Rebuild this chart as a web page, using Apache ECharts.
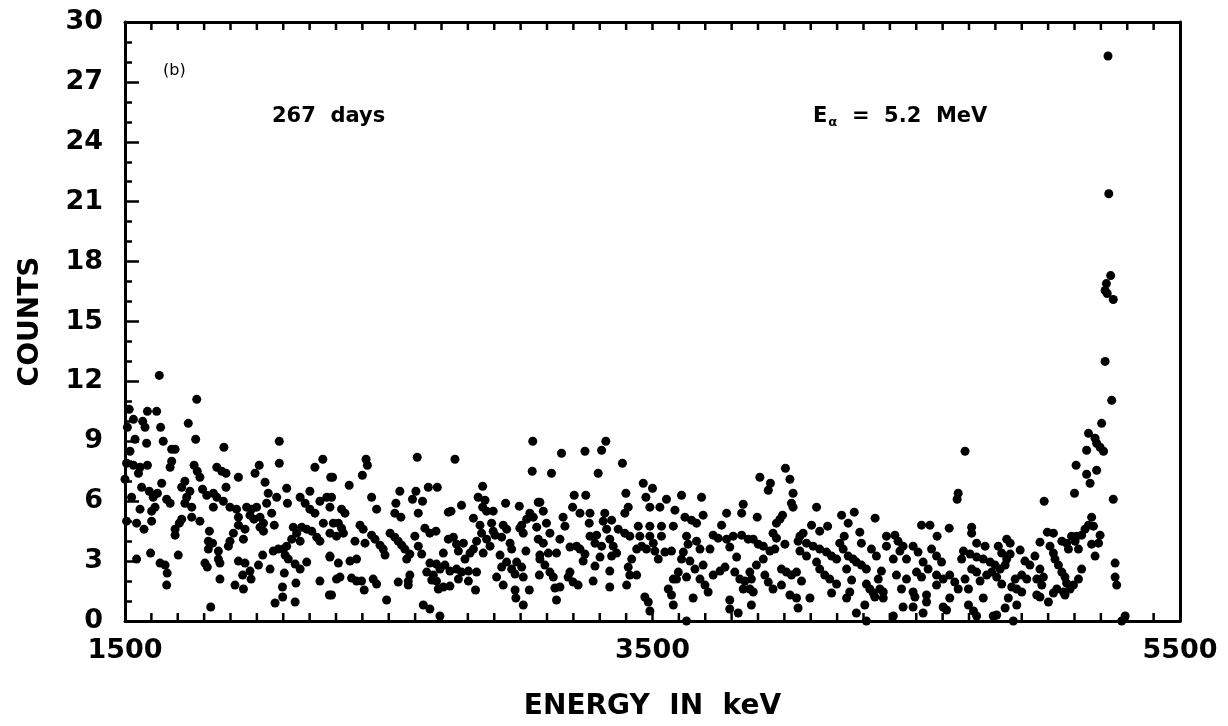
<!DOCTYPE html>
<html>
<head>
<meta charset="utf-8">
<title>COUNTS vs ENERGY</title>
<script src="https://cdn.jsdelivr.net/npm/echarts@6/dist/echarts.min.js"></script>
<style>
  html, body { margin: 0; padding: 0; background: #fff; }
  #chart { width: 1228px; height: 726px; }
</style>
</head>
<body>
<div id="chart"></div>
<script>
// spectrum points [energy keV, counts]
const band1500 = [
  [1630,12.3],[1772,11.1],[1620,10.5],[1585,10.5],[1516,10.6],[1532,10.1],[1509,9.7],[1567,10.0],
  [1576,9.7],[1635,9.7],[1740,9.9],[1768,9.1],[1538,9.1],[1582,8.9],[1645,9.0],[1519,8.5],
  [1677,8.6],[1690,8.6],[1677,8.0],[1671,7.7],[1875,8.7],[1506,7.9],[1532,7.8],[1557,7.7],
  [1585,7.8],[1551,7.4],[1500,7.1],[1762,7.8],[1774,7.5],[1784,7.2],[1848,7.7],[1867,7.5],
  [1883,7.4],[1930,7.2],[1993,7.4],[2009,7.8],[2085,9.0],[2085,7.9],[2250,8.1],[2220,7.7],
  [2280,7.2],[1639,6.9],[1563,6.7],[1727,7.0],[1715,6.7],[1794,6.6],[1883,6.7],[2031,6.95],
  [2113,6.65],[2201,6.5],[1592,6.5],[1607,6.2],[1623,6.4],[1525,6.2],[1658,6.1],[1671,5.9],
  [1746,6.5],[1734,6.2],[1727,5.9],[1753,5.7],[1810,6.3],[1835,6.4],[1848,6.2],[1835,5.7],
  [1873,6.0],[1898,5.7],[1923,5.6],[1930,5.2],[1961,5.7],[1980,5.6],[1999,5.7],[2037,5.9],
  [2043,6.4],[2012,5.2],[1974,5.3],[1989,5.1],[2025,4.9],[2056,5.4],[2066,4.8],[2075,6.2],
  [2116,5.9],[2164,6.2],[2183,5.9],[2201,5.6],[2220,5.4],[2239,6.0],[2265,6.2],[2277,5.7],
  [1557,5.6],[1601,5.5],[1614,5.7],[1601,5.0],[1544,4.9],[1572,4.6],[1506,5.0],[1715,5.1],
  [1753,5.2],[1784,5.0],[1706,4.9],[1690,4.6],[1690,4.3],[1820,4.5],[1816,4.0],[1832,3.9],
  [1816,3.6],[1854,3.5],[1854,3.1],[1860,2.9],[1911,4.4],[1898,4.0],[1892,3.75],[1930,4.8],
  [1955,4.6],[1949,4.1],[1930,3.0],[1955,2.9],[1946,2.3],[1974,2.5],[1978,2.1],[1917,1.8],
  [1949,1.6],[2012,4.7],[2025,4.5],[2022,3.3],[2006,2.8],[2050,2.6],[2062,3.5],[2081,3.6],
  [2100,3.6],[2113,3.75],[2107,3.3],[2119,3.1],[2132,4.1],[2138,4.7],[2151,4.4],[2164,4.0],
  [2170,4.7],[2189,4.6],[2208,4.5],[2227,4.2],[2239,4.0],[2252,4.9],[2277,4.4],[2145,2.85],
  [2164,2.6],[2189,2.95],[2104,2.4],[2097,1.7],[2148,1.9],[2098,1.2],[2069,0.9],[2145,0.95],
  [2239,2.0],[2275,1.3],[2277,3.2],[1633,2.9],[1652,2.8],[1660,2.4],[1658,1.8],[1597,3.4],
  [1544,3.1],[1702,3.3],[1803,2.9],[1812,2.7],[1860,2.1],[1825,0.7]
];
const band2300 = [
  [3046,9.0],[3044,7.5],[2608,8.2],[2751,8.1],[2414,8.1],[2419,7.8],[2400,7.3],[2287,7.2],
  [2350,6.8],[2650,6.7],[2684,6.7],[2283,6.2],[2435,6.2],[2542,6.5],[2603,6.5],[2590,6.1],
  [2628,6.0],[2527,5.9],[2612,5.4],[2454,5.6],[2523,5.4],[2546,5.2],[2856,6.75],[2839,6.2],
  [2865,6.05],[2856,5.7],[2871,5.5],[2896,5.5],[2776,5.8],[2726,5.45],[2736,5.5],[2943,5.9],
  [2995,5.75],[3067,5.95],[3035,5.4],[3048,5.2],[3023,5.1],[2321,5.6],[2334,5.4],[2290,4.9],
  [2309,4.9],[2321,4.65],[2328,4.4],[2302,4.25],[2391,4.8],[2403,4.6],[2372,4.0],[2410,3.9],
  [2435,4.3],[2448,4.1],[2467,3.8],[2479,3.6],[2486,3.3],[2505,4.4],[2523,4.2],[2536,4.0],
  [2549,3.8],[2561,3.6],[2568,3.1],[2580,3.35],[2599,4.25],[2612,3.75],[2625,3.35],[2637,4.65],
  [2656,4.4],[2679,4.5],[2821,5.15],[2846,4.8],[2852,4.4],[2871,4.1],[2833,4.0],[2821,3.6],
  [2808,3.4],[2789,3.1],[2890,4.9],[2896,4.5],[2903,4.3],[2884,3.75],[2858,3.4],[2934,4.8],
  [2947,4.6],[2928,4.2],[2960,3.9],[2966,3.6],[2922,3.3],[2997,4.65],[3010,4.4],[3004,4.8],
  [3061,4.7],[3067,4.1],[3020,3.5],[3073,3.3],[2726,4.1],[2745,4.2],[2757,3.85],[2783,3.9],
  [2764,3.5],[2707,3.4],[2656,2.9],[2681,2.85],[2694,2.6],[2713,2.8],[2732,2.5],[2757,2.6],
  [2776,2.45],[2802,2.5],[2833,2.45],[2669,2.3],[2681,2.0],[2707,1.7],[2732,1.75],[2764,2.1],
  [2802,2.0],[2688,1.6],[2829,1.55],[2644,2.45],[2663,2.05],[2353,3.0],[2378,3.1],[2277,3.25],
  [2309,2.9],[2302,2.1],[2315,2.2],[2359,2.15],[2378,2.0],[2397,2.0],[2407,1.55],[2441,2.1],
  [2454,1.85],[2536,1.95],[2574,2.0],[2580,2.3],[2574,1.8],[2492,1.05],[2631,0.8],[2656,0.6],
  [2283,1.3],[2909,2.2],[2934,1.8],[2928,2.7],[2947,2.95],[2966,2.6],[2985,2.95],[2979,2.35],
  [3004,2.7],[3010,2.2],[2979,1.55],[2982,1.15],[3010,0.8],[3033,1.55],[3071,2.3],[2694,0.25]
];
const band3100 = [
  [3323,9.0],[3307,8.55],[3244,8.5],[3155,8.4],[3386,7.9],[3294,7.4],[3117,7.4],[3465,6.9],
  [3500,6.65],[3475,6.2],[3553,6.1],[3610,6.3],[3686,6.2],[3399,6.4],[3203,6.3],[3247,6.3],
  [3086,5.5],[3073,5.95],[3197,5.7],[3225,5.4],[3263,5.4],[3260,4.9],[3319,5.4],[3313,5.0],
  [3345,5.05],[3326,4.6],[3408,5.7],[3395,5.4],[3490,5.7],[3528,5.7],[3585,5.55],[3623,5.2],
  [3648,5.05],[3667,4.9],[3692,5.3],[3781,5.4],[3844,5.85],[3838,5.4],[3161,5.2],[3168,4.75],
  [3098,4.9],[3111,4.4],[3149,4.1],[3086,3.9],[3105,3.4],[3136,3.4],[3073,3.1],[3092,2.8],
  [3111,2.45],[3124,2.2],[3187,3.7],[3212,3.75],[3225,3.6],[3244,3.35],[3263,4.25],[3288,4.3],
  [3282,3.9],[3307,3.75],[3301,3.2],[3237,3.0],[3282,2.75],[3338,4.1],[3351,3.75],[3364,3.4],
  [3345,3.25],[3370,4.6],[3395,4.4],[3414,4.25],[3446,4.75],[3452,4.25],[3490,4.75],[3490,4.25],
  [3534,4.75],[3534,4.25],[3440,3.6],[3459,3.75],[3477,3.6],[3503,3.9],[3509,3.5],[3522,3.1],
  [3547,3.45],[3572,3.5],[3421,3.1],[3408,2.7],[3414,2.3],[3440,2.3],[3402,1.8],[3338,2.5],
  [3338,1.7],[3275,2.0],[3199,1.95],[3218,1.8],[3187,2.45],[3180,2.2],[3130,1.65],[3149,1.7],
  [3136,1.05],[3579,4.75],[3629,4.25],[3635,3.85],[3667,4.0],[3680,3.6],[3718,3.6],[3617,3.45],
  [3610,3.1],[3642,3.0],[3661,2.6],[3692,2.8],[3598,2.45],[3579,2.1],[3591,2.1],[3560,1.6],
  [3572,1.3],[3579,0.8],[3629,2.2],[3680,2.1],[3699,1.8],[3711,1.45],[3730,2.3],[3756,2.5],
  [3775,2.7],[3730,4.3],[3749,4.15],[3762,4.8],[3781,4.1],[3793,3.7],[3819,3.2],[3806,4.25],
  [3838,4.3],[3863,4.1],[3812,2.45],[3831,2.1],[3850,2.0],[3869,1.6],[3844,1.6],[3654,1.15],
  [3793,1.05],[3793,0.6],[3825,0.4],[3471,1.2],[3484,0.95],[3490,0.5],[3629,0.0]
];
const band3900 = [
  [4004,7.65],[3907,7.2],[3947,6.9],[3939,6.55],[4021,7.1],[4033,6.4],[4027,5.9],[4033,5.7],
  [3897,5.2],[3993,5.3],[3983,5.1],[3970,4.9],[4122,5.7],[4217,5.3],[4265,5.45],[4242,4.9],
  [4344,5.15],[4103,4.8],[4134,4.5],[4164,4.75],[4227,4.25],[4286,4.45],[4292,3.9],[3957,4.4],
  [3970,4.15],[3882,4.1],[3901,3.85],[3920,3.75],[3945,3.5],[3964,3.6],[4002,3.85],[4059,4.25],
  [4071,4.4],[4052,4.0],[4059,3.5],[4084,3.9],[4109,3.75],[4134,3.6],[4160,3.45],[4179,3.25],
  [4198,3.1],[4210,3.9],[4223,3.6],[4242,3.25],[4261,3.1],[4273,2.95],[4292,2.8],[4311,2.6],
  [4330,3.6],[4349,3.25],[4368,2.5],[4387,4.25],[4387,3.75],[4419,4.3],[4431,4.0],[4450,3.75],
  [4438,3.5],[4413,3.1],[4463,3.1],[4488,3.75],[4507,3.45],[4520,4.8],[4552,4.8],[4579,4.25],
  [4625,4.65],[4558,3.6],[4577,3.25],[4596,2.95],[4526,2.95],[4501,2.45],[4520,2.2],[4545,2.6],
  [4577,2.3],[4602,2.1],[4627,2.3],[4646,1.95],[4659,1.6],[4577,1.8],[3920,3.1],[3894,2.8],
  [3869,2.45],[3875,2.1],[3926,2.3],[3939,1.95],[3957,1.6],[3989,1.8],[3989,2.6],[4008,2.45],
  [4027,2.3],[4046,2.45],[4065,2.0],[4084,3.25],[4122,2.95],[4134,2.6],[4153,2.3],[4172,2.1],
  [4198,1.85],[4179,1.4],[4236,2.6],[4255,2.05],[4248,1.45],[4236,1.15],[4311,1.85],[4324,1.6],
  [4337,1.4],[4356,2.1],[4362,1.6],[4375,1.45],[4375,1.15],[4343,1.2],[4305,0.8],[4425,2.3],
  [4444,1.6],[4463,2.1],[4488,1.45],[4495,1.2],[4539,1.3],[4539,0.95],[4450,0.7],[4488,0.7],
  [4526,0.4],[4602,0.7],[4615,0.55],[4627,1.15],[4021,1.3],[4046,1.15],[4052,0.65],[4097,1.15],
  [3882,1.45],[3875,0.8],[4273,0.4],[4311,0.0],[4413,0.25],[4659,6.4],[4655,6.1]
];
const band4700 = [
  [5241,11.05],[5203,9.9],[5153,9.4],[5178,9.15],[5184,8.9],[5197,8.7],[5210,8.5],[5146,8.55],
  [5106,7.8],[5184,7.55],[5146,7.35],[5159,6.9],[5100,6.4],[5247,6.1],[4685,8.5],[4985,6.0],
  [5165,5.2],[5153,4.8],[5172,4.75],[5140,4.6],[5127,4.3],[5108,4.25],[5089,4.25],[5102,4.0],
  [5070,3.9],[5052,4.0],[5077,3.6],[5115,3.6],[5197,4.3],[5191,3.9],[5178,3.25],[5165,3.85],
  [4997,4.45],[5020,4.4],[4969,3.95],[5007,3.75],[5020,3.4],[5026,3.1],[5039,2.8],[5052,2.45],
  [5064,2.2],[5070,1.9],[5058,1.45],[5064,1.3],[5033,1.6],[5020,1.4],[5001,0.95],[5083,1.6],
  [5096,1.8],[5115,2.1],[5127,2.6],[5254,2.9],[5254,2.2],[5260,1.8],[4710,4.7],[4710,4.4],
  [4729,3.9],[4761,3.75],[4811,3.75],[4843,4.1],[4856,3.9],[4894,3.55],[4679,3.5],[4704,3.35],
  [4729,3.2],[4754,3.1],[4780,2.95],[4799,2.8],[4818,2.6],[4837,2.8],[4843,3.1],[4824,3.4],
  [4856,3.35],[4672,3.1],[4685,2.1],[4710,2.6],[4729,2.45],[4742,2.0],[4767,2.3],[4786,2.45],
  [4805,2.2],[4824,1.85],[4912,3.0],[4931,2.8],[4950,3.25],[4969,2.6],[4957,2.1],[4982,2.2],
  [4976,1.8],[4919,2.1],[4900,2.3],[4875,2.1],[4862,1.7],[4881,1.6],[4900,1.45],[4957,1.3],
  [4969,1.2],[4698,1.6],[4754,1.15],[4849,1.15],[4881,0.8],[4837,0.65],[4698,0.8],[4717,0.5],
  [4729,0.25],[4792,0.25],[4805,0.3],[4868,0.0],[5279,0.0],[5292,0.25]
];
// the 5.2 MeV alpha peak
const peak = [
  [5227,28.3],[5230,21.4],[5237,17.3],[5221,16.9],[5216,16.55],[5224,16.4],[5247,16.1],[5216,13.0]
];

const xLabels = [1500, 3500, 5500];
const yLabels = [0, 3, 6, 9, 12, 15, 18, 21, 24, 27, 30];
// small ticks along the top and bottom frame, every 100 keV
const xTickValues = [
  1600, 1700, 1800, 1900, 2000, 2100, 2200, 2300, 2400, 2500, 2600, 2700, 2800,
  2900, 3000, 3100, 3200, 3300, 3400, 3500, 3600, 3700, 3800, 3900, 4000, 4100,
  4200, 4300, 4400, 4500, 4600, 4700, 4800, 4900, 5000, 5100, 5200, 5300, 5400
];

const allPoints = [].concat(band1500, band2300, band3100, band3900, band4700, peak);

const FONT = 'DejaVu Sans';
const ink = '#000';
const tickLen = 8;

const chart = echarts.init(document.getElementById('chart'));
chart.setOption({
  backgroundColor: '#fff',
  animation: false,
  grid: { left: 125, right: 48, top: 22, bottom: 93 },
  xAxis: [
    {
      type: 'value', min: xLabels[0], max: xLabels[2], interval: 2000,
      name: 'ENERGY  IN  keV', nameLocation: 'middle', nameGap: 72,
      nameTextStyle: { fontFamily: FONT, fontWeight: 'bold', fontSize: 28, color: ink },
      axisLine: { show: true, onZero: false, lineStyle: { color: ink, width: 3 } },
      axisTick: { show: false },
      splitLine: { show: false },
      axisLabel: {
        margin: 16, fontFamily: FONT, fontWeight: 'bold', fontSize: 27, color: ink,
        showMinLabel: true, showMaxLabel: true, formatter: v => String(v)
      }
    },
    {
      type: 'value', position: 'top', min: xLabels[0], max: xLabels[2], interval: 2000,
      axisLine: { show: true, onZero: false, lineStyle: { color: ink, width: 3 } },
      axisTick: { show: false },
      axisLabel: { show: false },
      splitLine: { show: false }
    }
  ],
  yAxis: [
    {
      type: 'value', min: 0, max: 30, interval: 3,
      name: 'COUNTS', nameLocation: 'middle', nameGap: 80, nameRotate: 90,
      nameTextStyle: { fontFamily: FONT, fontWeight: 'bold', fontSize: 28, color: ink },
      axisLine: { show: true, onZero: false, lineStyle: { color: ink, width: 3 } },
      axisTick: { show: true, inside: true, length: 14, lineStyle: { color: ink, width: 2.5 } },
      minorTick: { show: true, splitNumber: 3, length: 7, lineStyle: { color: ink, width: 2.5 } },
      splitLine: { show: false },
      axisLabel: {
        margin: 22, fontFamily: FONT, fontWeight: 'bold', fontSize: 27, color: ink,
        formatter: v => (yLabels.indexOf(v) >= 0 ? String(v) : '')
      }
    },
    {
      type: 'value', position: 'right', min: 0, max: 30, interval: 3,
      axisLine: { show: true, onZero: false, lineStyle: { color: ink, width: 3 } },
      axisTick: { show: false },
      axisLabel: { show: false },
      splitLine: { show: false }
    }
  ],
  series: [
    {
      type: 'scatter',
      xAxisIndex: 0, yAxisIndex: 0,
      data: allPoints,
      symbol: 'circle',
      symbolSize: 9,
      itemStyle: { color: ink, opacity: 1 },
      clip: false,
      silent: true
    },
    // bottom frame ticks, placed on the energy scale and pointing into the plot
    {
      type: 'scatter',
      xAxisIndex: 0, yAxisIndex: 0,
      data: xTickValues.map(v => [v, yLabels[0]]),
      symbol: 'rect',
      symbolSize: [2.5, tickLen],
      symbolOffset: [0, -tickLen / 2],
      itemStyle: { color: ink, opacity: 1 },
      clip: false,
      silent: true,
      z: 3
    },
    // top frame ticks
    {
      type: 'scatter',
      xAxisIndex: 0, yAxisIndex: 0,
      data: xTickValues.map(v => [v, yLabels[yLabels.length - 1]]),
      symbol: 'rect',
      symbolSize: [2.5, tickLen],
      symbolOffset: [0, tickLen / 2],
      itemStyle: { color: ink, opacity: 1 },
      clip: false,
      silent: true,
      z: 3
    }
  ],
  graphic: [
    { type: 'text', left: 163, top: 63,
      style: { text: '(b)', font: '16px "DejaVu Sans"', fill: ink } },
    { type: 'text', left: 272, top: 106,
      style: { text: '267  days', font: 'bold 21px "DejaVu Sans"', fill: ink } },
    { type: 'text', left: 813, top: 106,
      style: {
        text: 'E{sub|α}  =  5.2  MeV',
        font: 'bold 21px "DejaVu Sans"', fill: ink,
        rich: { sub: { font: 'bold 13px "DejaVu Sans"', fill: ink, padding: [12, 0, 0, 1] } }
      } }
  ]
});
</script>
</body>
</html>
